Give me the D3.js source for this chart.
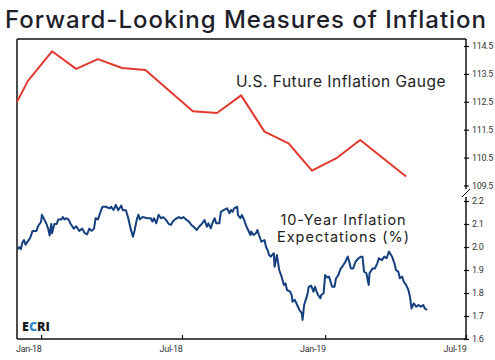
<!DOCTYPE html>
<html><head><meta charset="utf-8">
<script src="https://cdn.jsdelivr.net/npm/d3@7"></script>
<style>body{margin:0;background:#fff}svg{display:block}</style>
</head><body>
<svg id="c" width="495" height="360"></svg>
<script>
// ---- data ----
const titleText = "Forward-Looking Measures of Inflation";
const redLabel = "U.S. Future Inflation Gauge";
const blueLabel = ["10-Year Inflation", "Expectations (%)"];
const xTickDates = ["2018-01-01", "2018-07-01", "2019-01-01", "2019-07-01"];
const xTickLabels = ["Jan-18", "Jul-18", "Jan-19", "Jul-19"];
const redTicks = [109.5, 110.5, 111.5, 112.5, 113.5, 114.5];
const blueTicks = [1.6, 1.7, 1.8, 1.9, 2.0, 2.1, 2.2];

const redDates = ["2017-11-15","2017-12-15","2018-01-15","2018-02-15","2018-03-15","2018-04-15","2018-05-15",
  "2018-07-15","2018-08-15","2018-09-15","2018-10-15","2018-11-15","2018-12-15","2019-01-15","2019-02-15","2019-04-15"];
const redValues = [111.64,113.25,114.31,113.68,114.03,113.71,113.64,
  112.16,112.10,112.73,111.43,111.01,110.03,110.47,111.13,109.82];

const blueDates = ["2017-12-02","2017-12-04","2017-12-06","2017-12-08","2017-12-10","2017-12-12","2017-12-14","2017-12-18","2017-12-21","2017-12-26","2017-12-28",
 "2018-01-01","2018-01-02","2018-01-05","2018-01-08","2018-01-10","2018-01-12","2018-01-14","2018-01-15","2018-01-18","2018-01-21","2018-01-23","2018-01-27","2018-01-29","2018-01-31",
 "2018-02-02","2018-02-05","2018-02-08","2018-02-12","2018-02-15","2018-02-19","2018-02-23","2018-02-26",
 "2018-03-01","2018-03-04","2018-03-07","2018-03-10","2018-03-12","2018-03-15","2018-03-19","2018-03-21","2018-03-25","2018-03-30",
 "2018-04-01","2018-04-04","2018-04-07","2018-04-10","2018-04-14","2018-04-16","2018-04-20","2018-04-23","2018-04-26","2018-04-29",
 "2018-05-01","2018-05-04","2018-05-06","2018-05-08","2018-05-11","2018-05-18","2018-05-22","2018-05-24","2018-05-26","2018-05-29",
 "2018-06-01","2018-06-04","2018-06-07","2018-06-10","2018-06-14","2018-06-17","2018-06-19","2018-06-22","2018-06-27","2018-06-30",
 "2018-07-03","2018-07-06","2018-07-10","2018-07-13","2018-07-16","2018-07-20","2018-07-23","2018-07-27","2018-07-30",
 "2018-08-02","2018-08-04","2018-08-07","2018-08-09","2018-08-12","2018-08-14","2018-08-18","2018-08-20","2018-08-24","2018-08-28","2018-08-31",
 "2018-09-02","2018-09-04","2018-09-06","2018-09-10","2018-09-11","2018-09-14","2018-09-16","2018-09-19","2018-09-21","2018-09-24","2018-09-27","2018-09-28",
 "2018-10-01","2018-10-04","2018-10-06","2018-10-08","2018-10-11","2018-10-15","2018-10-17","2018-10-19","2018-10-21","2018-10-23","2018-10-27","2018-10-28","2018-10-31",
 "2018-11-03","2018-11-06","2018-11-09","2018-11-11","2018-11-13","2018-11-17","2018-11-19","2018-11-20","2018-11-23","2018-11-26","2018-11-29",
 "2018-12-02","2018-12-03","2018-12-05","2018-12-07","2018-12-09","2018-12-11","2018-12-14","2018-12-17","2018-12-19","2018-12-21","2018-12-23","2018-12-26","2018-12-27","2018-12-30",
 "2019-01-01","2019-01-04","2019-01-06","2019-01-10","2019-01-13","2019-01-15","2019-01-18","2019-01-21","2019-01-23","2019-01-27","2019-01-30",
 "2019-02-01","2019-02-03","2019-02-06","2019-02-09","2019-02-13","2019-02-16","2019-02-18","2019-02-20","2019-02-23","2019-02-26","2019-02-27",
 "2019-03-03","2019-03-06","2019-03-09","2019-03-11","2019-03-15","2019-03-18","2019-03-21","2019-03-24","2019-03-28","2019-03-31",
 "2019-04-02","2019-04-05","2019-04-07","2019-04-10","2019-04-12","2019-04-15","2019-04-18","2019-04-20","2019-04-22","2019-04-25","2019-04-28",
 "2019-05-01","2019-05-04","2019-05-07","2019-05-09","2019-05-12"];
const blueValues = [1.99,2.00,1.99,2.02,2.03,2.01,2.02,2.04,2.07,2.07,2.09,
 2.11,2.14,2.12,2.10,2.08,2.05,2.10,2.06,2.10,2.10,2.12,2.12,2.13,2.12,
 2.125,2.12,2.10,2.08,2.09,2.07,2.08,2.06,
 2.055,2.08,2.07,2.08,2.125,2.12,2.16,2.175,2.175,2.168,
 2.175,2.161,2.183,2.16,2.18,2.16,2.16,2.125,2.08,2.045,
 2.07,2.12,2.14,2.12,2.13,2.125,2.125,2.11,2.125,2.103,
 2.14,2.125,2.13,2.12,2.10,2.096,2.11,2.12,2.13,2.125,
 2.13,2.12,2.11,2.096,2.088,2.074,2.088,2.103,2.117,
 2.088,2.103,2.081,2.103,2.125,2.103,2.103,2.153,2.161,2.168,2.147,
 2.161,2.153,2.168,2.175,2.139,2.125,2.139,2.117,2.096,2.074,2.052,2.067,
 2.052,2.060,2.074,2.052,2.023,2.030,2.001,1.987,1.965,1.958,1.973,1.914,1.965,
 1.90,1.871,1.835,1.842,1.813,1.806,1.791,1.762,1.770,1.748,1.726,
 1.712,1.683,1.748,1.770,1.791,1.827,1.832,1.806,1.827,1.806,1.791,1.777,1.791,1.799,
 1.878,1.867,1.871,1.827,1.827,1.864,1.878,1.907,1.914,1.936,1.958,
 1.936,1.907,1.907,1.936,1.951,1.958,1.958,1.893,1.886,1.835,1.886,
 1.907,1.907,1.929,1.951,1.943,1.958,1.951,1.980,1.958,1.929,
 1.900,1.893,1.864,1.871,1.849,1.835,1.813,1.784,1.733,1.755,1.740,
 1.748,1.740,1.748,1.733,1.726];

// ---- layout ----
const L = 17, R = 466, T = 39, B = 339;
const parse = d3.timeParse("%Y-%m-%d");
const svg = d3.select("#c");
const x = d3.scaleTime().domain([parse("2017-12-01"), parse("2019-07-01")]).range([L, R]);
const yRed = d3.scaleLinear().domain([109.5, 114.5]).range([185.5, 46]);
const yBlue = d3.scaleLinear().domain([1.6, 2.2]).range([B, 201]);

// fit a text's width by letter-spacing
function fitWidth(sel, w) {
  const n = sel.text().length;
  const cur = sel.node().getComputedTextLength();
  sel.attr("letter-spacing", (w - cur) / n);
}

// title
const title = svg.append("text").attr("x", 5).attr("y", 28)
  .attr("font-family", "Inter, sans-serif").attr("font-weight", 500)
  .attr("font-size", 24).attr("fill", "#1e1e2a").text(titleText);
fitWidth(title, 482);

svg.append("defs").append("clipPath").attr("id", "plot")
  .append("rect").attr("x", L).attr("y", T).attr("width", R - L).attr("height", B - T);

// frame
const frame = svg.append("g").attr("stroke", "#111").attr("stroke-width", 1.5).attr("fill", "none");
frame.append("line").attr("x1", L).attr("x2", R).attr("y1", T).attr("y2", T);
frame.append("line").attr("x1", L).attr("x2", L).attr("y1", T).attr("y2", B);
frame.append("line").attr("x1", L).attr("x2", R).attr("y1", B).attr("y2", B);
frame.append("line").attr("x1", R).attr("x2", R).attr("y1", T).attr("y2", 189);
frame.append("line").attr("x1", R).attr("x2", R).attr("y1", 197).attr("y2", B);
frame.append("line").attr("x1", 462).attr("x2", 470).attr("y1", 197).attr("y2", 189).attr("stroke-width", 1);

// right axes
function rightAxis(scale, ticks, fmt) {
  const g = svg.append("g").attr("transform", `translate(${R},0)`)
    .call(d3.axisRight(scale).tickValues(ticks).tickSize(3).tickPadding(3).tickFormat(fmt));
  g.select(".domain").remove();
  g.selectAll(".tick line").attr("x1", -2).attr("stroke", "#111").attr("stroke-width", 1.2);
  g.selectAll(".tick text").attr("font-family", "Roboto, sans-serif").attr("font-size", 9)
    .attr("letter-spacing", -0.3).attr("fill", "#333");
}
rightAxis(yRed, redTicks, d3.format(".1f"));
rightAxis(yBlue, blueTicks, d3.format(".1f"));

// x axis
const xa = svg.append("g").attr("transform", `translate(0,${B})`)
  .call(d3.axisBottom(x).tickValues(xTickDates.map(parse)).tickSize(-4).tickPadding(0)
    .tickFormat((d, i) => xTickLabels[i]));
xa.select(".domain").remove();
xa.selectAll(".tick line").attr("stroke", "#111").attr("stroke-width", 1.2);
xa.selectAll(".tick text").attr("text-anchor", "end").attr("y", 13).attr("dy", 0)
  .attr("font-family", "Roboto, sans-serif").attr("font-size", 9).attr("letter-spacing", -0.3).attr("fill", "#333");

// lines
const plot = svg.append("g").attr("clip-path", "url(#plot)");
const redData = redDates.map((d, i) => [parse(d), redValues[i]]);
const blueData = blueDates.map((d, i) => [parse(d), blueValues[i]]);
plot.append("path").datum(redData).attr("fill", "none").attr("stroke", "#e2392f").attr("stroke-width", 2)
  .attr("stroke-linejoin", "round")
  .attr("d", d3.line().x(d => x(d[0])).y(d => yRed(d[1])));
plot.append("path").datum(blueData).attr("fill", "none").attr("stroke", "#153f7f").attr("stroke-width", 2)
  .attr("stroke-linejoin", "round")
  .attr("d", d3.line().x(d => x(d[0])).y(d => yBlue(d[1])));

// labels
const rl = svg.append("text").attr("x", 236).attr("y", 87).attr("font-family", "Inter, sans-serif")
  .attr("font-size", 15.5).attr("fill", "#222").text(redLabel);
fitWidth(rl, 210);
const blueWidths = [126, 133];
blueLabel.forEach((t, i) => {
  const el = svg.append("text").attr("x", 343.5).attr("y", 225 + i * 17).attr("text-anchor", "middle")
    .attr("font-family", "Inter, sans-serif").attr("font-size", 14.5).attr("fill", "#222").text(t);
  fitWidth(el, blueWidths[i]);
});

// ECRI logo
const logo = svg.append("text").attr("x", 22).attr("y", 331).attr("font-family", "'Open Sans', sans-serif")
  .attr("font-weight", 800).attr("font-size", 12.5);
const logoLetters = ["E", "C", "R", "I"];
const logoColors = ["#1a1a1a", "#2f86cc", "#1a1a1a", "#1a1a1a"];
logo.selectAll("tspan").data(logoLetters).join("tspan").attr("fill", (d, i) => logoColors[i]).text(d => d);
</script>
</body></html>
